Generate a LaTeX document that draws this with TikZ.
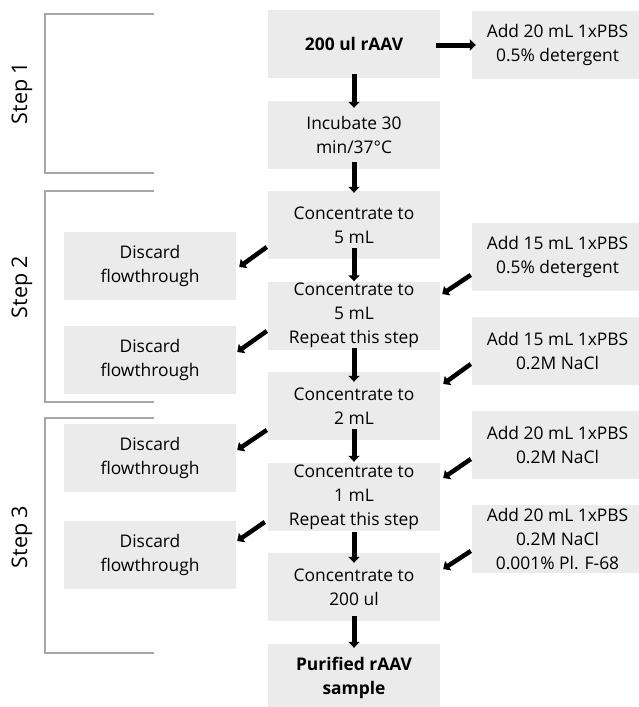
\documentclass[tikz,border=0pt]{standalone}
\usepackage{fontspec}
\setmainfont{Open Sans}
\usetikzlibrary{arrows.meta,calc}
\definecolor{boxgray}{HTML}{EBEBEB}
\definecolor{brk}{HTML}{A6A6A6}
\begin{document}
\begin{tikzpicture}[x=1pt,y=-1pt,
  box/.style={fill=boxgray, draw=none, inner sep=0pt, minimum width=172pt, minimum height=68pt, align=center, font=\fontsize{17.4}{24}\selectfont},
  rbox/.style={box, minimum width=171pt},
  arr/.style={line width=5pt, -{Triangle[width=11pt,length=6pt]}},
  darr/.style={line width=4.5pt, -{Triangle[width=11pt,length=6pt]}},
  brkline/.style={draw=brk, line width=1.2pt},
  steplabel/.style={rotate=90, font=\fontsize{21.5}{26}\selectfont, inner sep=0pt}]
\useasboundingbox (0,0) rectangle (639,707);

% centre column
\node[box] (C1) at (354,44) {\textbf{200 ul rAAV}};
\node[box] (C2) at (354,135) {Incubate 30\\min/37°C};
\node[box] (C3) at (354,225) {Concentrate to\\5 mL};
\node[box] (C4) at (354,315.5) {Concentrate to\\5 mL\\Repeat this step};
\node[box] (C5) at (354,406) {Concentrate to\\2 mL};
\node[box] (C6) at (354,497) {Concentrate to\\1 mL\\Repeat this step};
\node[box] (C7) at (354,587) {Concentrate to\\200 ul};
\node[box] (C8) at (354,678) {\textbf{Purified rAAV}\\\textbf{sample}};

% right column
\node[rbox] (R1) at (557.5,44.5) {Add 20 mL 1xPBS\\0.5\% detergent};
\node[rbox] (R2) at (557.5,257) {Add 15 mL 1xPBS\\0.5\% detergent};
\node[rbox] (R3) at (557.5,351) {Add 15 mL 1xPBS\\0.2M NaCl};
\node[rbox] (R4) at (557.5,445) {Add 20 mL 1xPBS\\0.2M NaCl};
\node[rbox] (R5) at (557.5,539) {Add 20 mL 1xPBS\\0.2M NaCl\\0.001\% Pl. F-68};

% left column
\node[box] (L1) at (150,266) {Discard\\flowthrough};
\node[box] (L2) at (150,360) {Discard\\flowthrough};
\node[box] (L3) at (150,457.5) {Discard\\flowthrough};
\node[box] (L4) at (150,555) {Discard\\flowthrough};

% step brackets
\coordinate (B1a) at (154,14); \coordinate (B1b) at (45,14);
\coordinate (B1c) at (45,173); \coordinate (B1d) at (154,173);
\coordinate (B2a) at (154,191); \coordinate (B2b) at (45,191);
\coordinate (B2c) at (45,402); \coordinate (B2d) at (154,402);
\coordinate (B3a) at (154,418); \coordinate (B3b) at (45,418);
\coordinate (B3c) at (45,653); \coordinate (B3d) at (154,653);
\draw[brkline] (B1a) -- (B1b) -- (B1c) -- (B1d);
\draw[brkline] (B2a) -- (B2b) -- (B2c) -- (B2d);
\draw[brkline] (B3a) -- (B3b) -- (B3c) -- (B3d);
\node[steplabel] (S1) at (22,93) {Step 1};
\node[steplabel] (S2) at (22,287) {Step 2};
\node[steplabel] (S3) at (22,537) {Step 3};

% arrows
\draw[arr] ($(C1.east)+(-4,1)$) -- ($(R1.west)+(4,0.5)$);
\draw[arr] ($(C1.south)+(0,-4)$) -- ($(C2.north)+(0,7)$);
\draw[arr] ($(C2.south)+(0,-7)$) -- ($(C3.north)+(0,2)$);
\draw[arr] ($(C3.south)+(0,-11)$) -- ($(C4.north)+(0,0)$);
\draw[arr] ($(C4.south)+(0,-2)$) -- ($(C5.north)+(0,10)$);
\draw[arr] ($(C5.south)+(0,-11)$) -- ($(C6.north)+(0,-1)$);
\draw[arr] ($(C6.south)+(0,1)$) -- ($(C7.north)+(0,10)$);
\draw[arr] ($(C7.south)+(0,-5)$) -- ($(C8.north)+(0,4)$);

\draw[darr] ($(R2.west)+(-1,18)$) -- ($(C4.east)+(2,-21.5)$);
\draw[darr] ($(R3.west)+(-1,13)$) -- ($(C5.east)+(3,-22)$);
\draw[darr] ($(R4.west)+(-1,14)$) -- ($(C6.east)+(3,-19)$);
\draw[darr] ($(R5.west)+(-1,12)$) -- ($(C7.east)+(3,-18)$);

\draw[darr] ($(C3.west)+(-1,22)$) -- ($(L1.east)+(3,1)$);
\draw[darr] ($(C4.west)+(-1,15.5)$) -- ($(L2.east)+(1,-8)$);
\draw[darr] ($(C5.west)+(-1,24)$) -- ($(L3.east)+(1,-7.5)$);
\draw[darr] ($(C6.west)+(-3,25)$) -- ($(L4.east)+(1,-14)$);
\end{tikzpicture}
\end{document}
